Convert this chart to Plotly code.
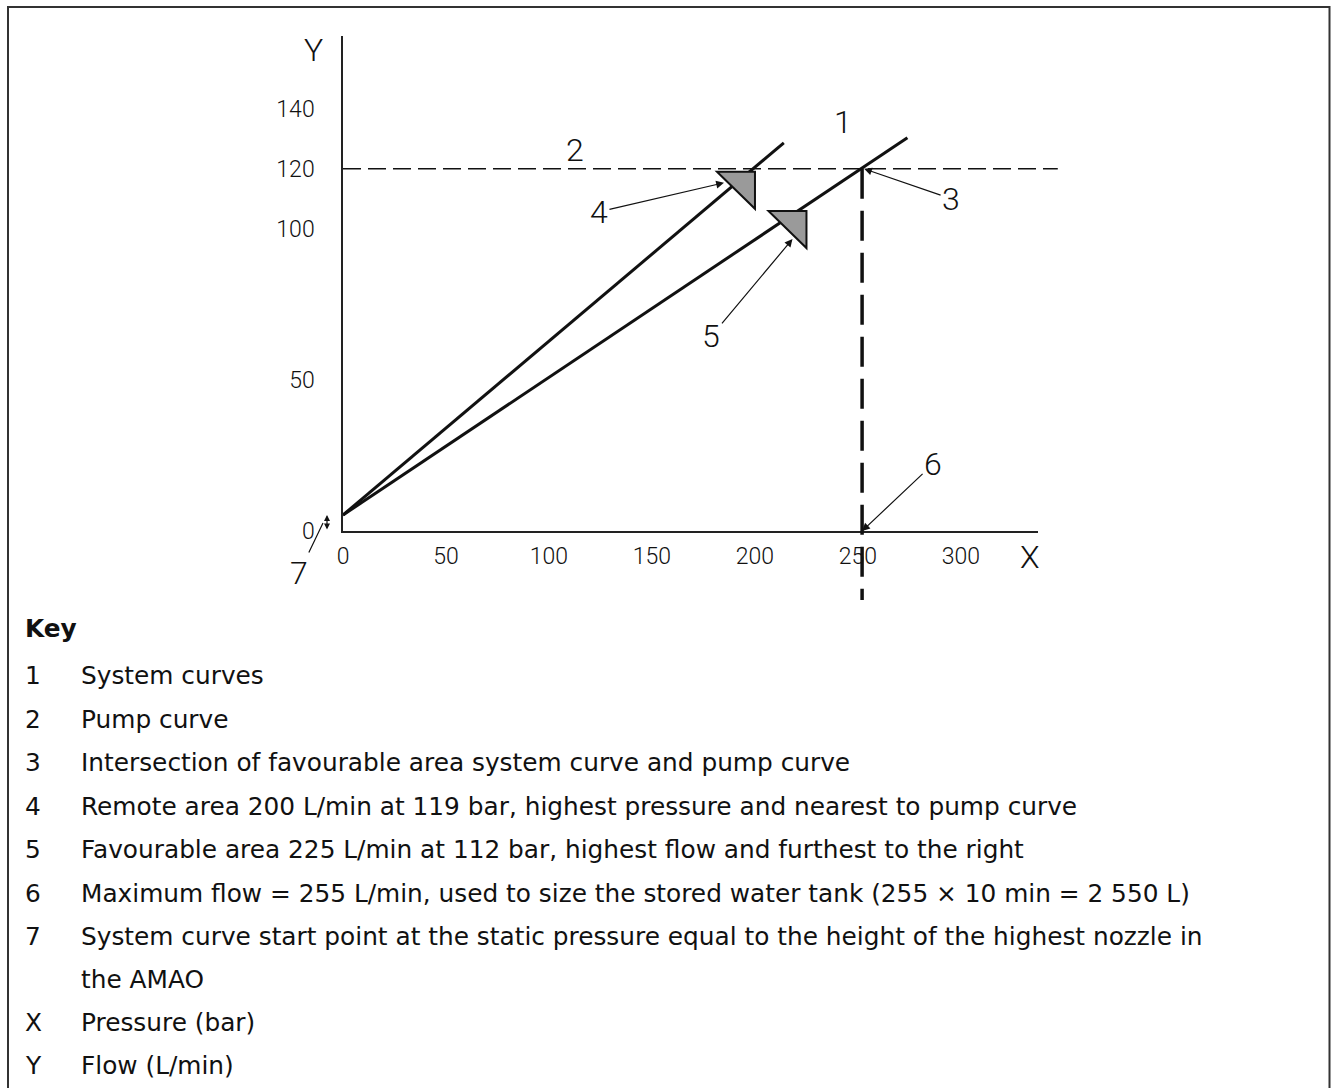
import plotly.graph_objects as go

# ---------------- data ----------------
x_ticks = [0, 50, 100, 150, 200, 250, 300]
y_ticks = [0, 50, 100, 120, 140]

static_start = 5.3                      # item 7: system curve start value
remote_curve_x = [0, 214]               # system curve through remote area (4)
remote_curve_y = [static_start, 128.6]
favour_curve_x = [0, 274]               # system curve through favourable area (5)
favour_curve_y = [static_start, 130.3]

pump_level = 120                        # pump curve (2), horizontal dashed
pump_x_end = 347
point_ids = ["4", "5"]
point_x = [200, 225]
point_y = [119, 106]
intersection_x = 252                    # item 3 / item 6 (max flow)
intersection_y = 120

key_ids = ["1", "2", "3", "4", "5", "6", "7", "", "X", "Y"]
key_texts = [
    "System curves",
    "Pump curve",
    "Intersection of favourable area system curve and pump curve",
    "Remote area 200 L/min at 119 bar, highest pressure and nearest to pump curve",
    "Favourable area 225 L/min at 112 bar, highest flow and furthest to the right",
    "Maximum flow = 255 L/min, used to size the stored water tank (255 × 10 min = 2 550 L)",
    "System curve start point at the static pressure equal to the height of the highest nozzle in",
    "the AMAO",
    "Pressure (bar)",
    "Flow (L/min)",
]

# ---------------- layout geometry ----------------
W, H = 1331, 1088
ML, MR, MT, MB = 343, 293, 36, 557
PW, PH = W - ML - MR, H - MT - MB
X_RANGE = [0, 337.4]
Y_RANGE = [0, 164]
PLOT_BOTTOM = MT + PH


def pxx(px):
    return (px - ML) / PW


def pxy(py):
    return (PLOT_BOTTOM - py) / PH


def data_to_paper_y(v):
    return (v - Y_RANGE[0]) / (Y_RANGE[1] - Y_RANGE[0])


TECH = "Roboto, Liberation Sans, sans-serif"
KEYFONT = "DejaVu Sans, Open Sans, sans-serif"
BLACK = "#111111"

fig = go.Figure()
fig.add_trace(go.Scatter(x=remote_curve_x, y=remote_curve_y, mode="lines",
                         line=dict(color=BLACK, width=3), hoverinfo="skip", showlegend=False))
fig.add_trace(go.Scatter(x=favour_curve_x, y=favour_curve_y, mode="lines",
                         line=dict(color=BLACK, width=3), hoverinfo="skip", showlegend=False))

shapes = []
# pump curve: horizontal dashed line (extends past the x axis end)
shapes.append(dict(type="line", xref="paper", yref="y", x0=0,
                   x1=(pump_x_end - X_RANGE[0]) / (X_RANGE[1] - X_RANGE[0]),
                   y0=pump_level, y1=pump_level, line=dict(color=BLACK, width=1.5, dash="18px,7px")))
# maximum flow: thick vertical dashed line, runs below the x axis
shapes.append(dict(type="line", xref="x", yref="paper", x0=intersection_x, x1=intersection_x,
                   y0=data_to_paper_y(intersection_y), y1=pxy(600),
                   line=dict(color=BLACK, width=3.5, dash="30px,12px")))
# design point markers (right triangles, corner on the point)
for px_, py_ in zip(point_x, point_y):
    shapes.append(dict(type="path", xref="x", yref="y", xsizemode="pixel", ysizemode="pixel",
                       xanchor=px_, yanchor=py_, path="M -38,0 L 0,0 L 0,-37 Z",
                       fillcolor="#9a9a9a", line=dict(color=BLACK, width=2), layer="above"))
# page frame
shapes.append(dict(type="rect", xref="paper", yref="paper", x0=pxx(8), x1=pxx(1329.5),
                   y0=pxy(1100), y1=pxy(7), line=dict(color="#333333", width=2),
                   fillcolor="rgba(0,0,0,0)"))

ann = []
big = dict(family=TECH, size=32, color=BLACK, weight=300)
lab = dict(xref="paper", yref="paper", showarrow=False, xanchor="center", yanchor="middle", font=big)
# axis letters
ann.append(dict(text="Y", x=pxx(313), y=pxy(50), **lab))
ann.append(dict(text="X", x=pxx(1030), y=pxy(557), **lab))
# curve labels
ann.append(dict(text="1", x=pxx(843), y=pxy(122), **lab))
ann.append(dict(text="2", x=pxx(575), y=pxy(150), **lab))
arrow = dict(arrowhead=2, arrowsize=1.3, arrowwidth=1.2, arrowcolor=BLACK, showarrow=True,
             axref="pixel", ayref="pixel", font=big)
# 3: intersection
ann.append(dict(text="3", x=intersection_x, y=intersection_y, xshift=2, ax=87, ay=30, **arrow))
# 4 and 5: design points
ann.append(dict(text=point_ids[0], x=point_x[0], y=point_y[0], xshift=-31, yshift=-11,
                ax=-125, ay=29, **arrow))
ann.append(dict(text=point_ids[1], x=point_x[1], y=point_y[1], xshift=-14, yshift=-28,
                ax=-81, ay=97, **arrow))
# 6: maximum flow on the x axis
ann.append(dict(text="6", x=intersection_x, y=0, ax=71, ay=-67, **arrow))
# 7: static start offset
ann.append(dict(text="7", x=0, y=static_start / 2, xshift=-20, ax=-24, ay=50,
                arrowhead=0, arrowwidth=1.2, arrowcolor=BLACK, showarrow=True, font=big))
ann.append(dict(text="", x=0, y=static_start, xshift=-16, axref="x", ayref="y", ax=0, ay=0,
                showarrow=True, arrowside="end+start", arrowhead=2, arrowsize=1, arrowwidth=1.2,
                arrowcolor=BLACK))

# key
key_font = dict(family=KEYFONT, size=24.8, color=BLACK)
ann.append(dict(text="<b>Key</b>", xref="paper", yref="paper", x=pxx(23), y=pxy(628),
                xanchor="left", yanchor="middle", showarrow=False, font=key_font))
key_y = [675, 719, 762, 806, 849, 893, 936, 979, 1022, 1065]
for kid, ktxt, ky in zip(key_ids, key_texts, key_y):
    if kid:
        ann.append(dict(text=kid, xref="paper", yref="paper", x=pxx(23), y=pxy(ky),
                        xanchor="left", yanchor="middle", showarrow=False, font=key_font))
    ann.append(dict(text=ktxt, xref="paper", yref="paper", x=pxx(79), y=pxy(ky),
                    xanchor="left", yanchor="middle", showarrow=False, font=key_font))

tickfont = dict(family=TECH, size=23, color=BLACK, weight=300)
fig.update_layout(
    width=W, height=H,
    margin=dict(l=ML, r=MR, t=MT, b=MB, pad=0),
    paper_bgcolor="white", plot_bgcolor="white",
    showlegend=False,
    shapes=shapes, annotations=ann,
    xaxis=dict(range=X_RANGE, tickvals=x_ticks, ticktext=[str(v) for v in x_ticks],
               showline=True, linecolor="#222222", linewidth=1.5, ticks="", showgrid=False,
               zeroline=False, ticklabelstandoff=4, fixedrange=True, tickfont=tickfont),
    yaxis=dict(range=Y_RANGE, tickvals=y_ticks, ticktext=[str(v) for v in y_ticks],
               showline=True, linecolor="#222222", linewidth=1.5, ticks="", showgrid=False,
               zeroline=False, ticklabelstandoff=22, fixedrange=True, tickfont=tickfont),
)

fig.write_html("out.html", config={"displayModeBar": False},
               post_script="document.body.style.margin='0';")
